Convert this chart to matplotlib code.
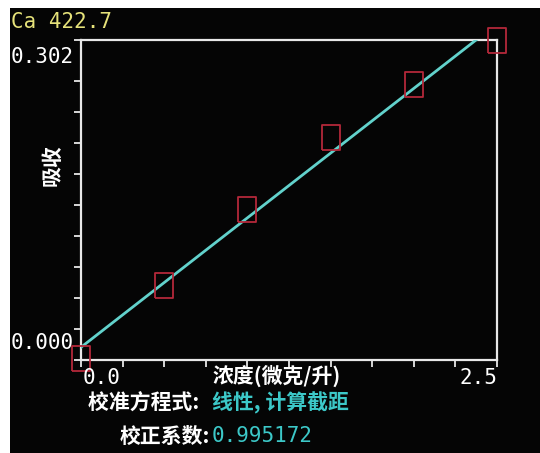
import numpy as np
import matplotlib
matplotlib.use("Agg")
import matplotlib.pyplot as plt
from matplotlib.patches import Rectangle

# ---- data ----
conc = [0.0, 0.5, 1.0, 1.5, 2.0, 2.5]
absorb = [0.0019, 0.0708, 0.1425, 0.2105, 0.2605, 0.302]
x_tick_labels = ["0.0", "2.5"]
y_tick_labels = ["0.000", "0.302"]
title_txt = "Ca 422.7"
ylabel_txt = "吸收"
xlabel_txt = "浓度(微克/升)"
eq_label = "校准方程式: "
eq_value = "线性, 计算截距"
coef_label = "校正系数:"
coef_value = "0.995172"

W, H = 540, 453
fig = plt.figure(figsize=(W / 100, H / 100), dpi=100, facecolor="#050505")

def fx(px):
    return px / W

def fy(py):
    return 1 - py / H

# white margins (top strip and left strip)
fig.patches.append(Rectangle((0, fy(8)), 1, 1 - fy(8), transform=fig.transFigure,
                             facecolor="white", edgecolor="none", zorder=-5))
fig.patches.append(Rectangle((0, 0), fx(10), 1, transform=fig.transFigure,
                             facecolor="white", edgecolor="none", zorder=-5))

ax = fig.add_axes([fx(81), fy(360), fx(497) - fx(81), fy(40) - fy(360)])
ax.set_facecolor("#050505")
ax.set_xlim(0, 2.5)
ax.set_ylim(0, 0.302)
for s in ax.spines.values():
    s.set_color("#e8e8e8")
    s.set_linewidth(1.6)

xt = np.arange(0, 2.5001, 0.25)
ax.set_xticks(xt)
ax.set_xticklabels([])
ystep = 0.0293
yt = list(np.arange(0, 0.27, ystep)) + [0.302]
ax.set_yticks(yt)
ax.set_yticklabels([])
ax.tick_params(axis="x", colors="#e8e8e8", length=5, width=1.3, direction="out")
ax.tick_params(axis="y", colors="#e8e8e8", length=5, width=1.3, direction="out")

# fitted line
coef = np.polyfit(conc, absorb, 1)
xl = np.array([0, 2.5])
ax.plot(xl, np.polyval(coef, xl), color="#62d2cc", lw=2.0, zorder=3, clip_on=True)

# rectangular markers
rect_marker = [(-0.35, -0.5), (0.35, -0.5), (0.35, 0.5), (-0.35, 0.5), (-0.35, -0.5)]
ax.plot(conc, absorb, linestyle="none", marker=rect_marker, markersize=18,
        markerfacecolor="none", markeredgecolor="#b4283a", markeredgewidth=1.3,
        zorder=4, clip_on=False)

mono = ["DejaVu Sans Mono"]
nsize = 15
cjk = ["Noto Sans CJK SC", "DejaVu Sans"]

fig.text(fx(11), fy(22), title_txt, color="#e6e27a", fontsize=nsize, family=mono,
         ha="left", va="center")
fig.text(fx(11), fy(57), y_tick_labels[1], color="white", fontsize=nsize, family=mono,
         ha="left", va="center")
fig.text(fx(11), fy(343), y_tick_labels[0], color="white", fontsize=nsize, family=mono,
         ha="left", va="center")
fig.text(fx(52), fy(165), ylabel_txt, color="white", fontsize=15, family=cjk,
         weight="bold", rotation=90, ha="center", va="center")
fig.text(fx(83), fy(378), x_tick_labels[0], color="white", fontsize=nsize, family=mono,
         ha="left", va="center")
fig.text(fx(497), fy(378), x_tick_labels[1], color="white", fontsize=nsize, family=mono,
         ha="right", va="center")
fig.text(fx(277), fy(376), xlabel_txt, color="white", fontsize=15, family=cjk,
         weight="bold", ha="center", va="center")
fig.text(fx(88), fy(403), eq_label, color="white", fontsize=15, family=cjk,
         weight="bold", ha="left", va="center")
fig.text(fx(212), fy(403), eq_value, color="#3cc8c8", fontsize=15, family=cjk,
         weight="bold", ha="left", va="center")
fig.text(fx(210), fy(436), coef_label, color="white", fontsize=15, family=cjk,
         weight="bold", ha="right", va="center")
fig.text(fx(212), fy(436), coef_value, color="#3cc8c8", fontsize=nsize, family=mono,
         ha="left", va="center")

fig.savefig("out.png", dpi=100, facecolor=fig.get_facecolor())
